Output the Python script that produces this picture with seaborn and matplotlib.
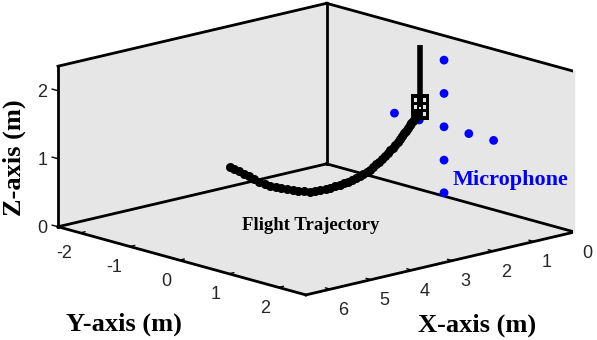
import matplotlib
matplotlib.use("Agg")
import matplotlib.pyplot as plt
import matplotlib.transforms as mtransforms
from matplotlib.path import Path
from mpl_toolkits.mplot3d import proj3d
import numpy as np
import seaborn as sns

sns.set_theme(style="white")

# axis limits and ticks (m)
x_lim = (0.0, 6.6)
y_lim = (-2.45, 2.55)
z_lim = (0.0, 2.36)
x_ticks = [0, 1, 2, 3, 4, 5, 6]
y_ticks = [-2, -1, 0, 1, 2]
z_ticks = [0, 1, 2]

# flight trajectory (lies in the y = 0 plane)
traj_plane_y = 0.0
traj_x = [5.37, 5.26, 5.14, 5.02, 4.90, 4.77, 4.64, 4.51, 4.38, 4.24,
          4.10, 3.96, 3.82, 3.68, 3.54, 3.40, 3.27, 3.14, 3.01, 2.89,
          2.77, 2.66, 2.55, 2.45, 2.35, 2.26, 2.17, 2.08, 2.00, 1.92,
          1.84, 1.76, 1.69, 1.62, 1.55, 1.48, 1.42, 1.36, 1.30, 1.24,
          1.18, 1.13, 1.08, 1.03, 0.98, 0.94, 0.90, 0.86, 0.82, 0.79, 0.76]
traj_z = [1.19, 1.15, 1.10, 1.05, 1.00, 0.94, 0.88, 0.83, 0.78, 0.74,
          0.71, 0.67, 0.64, 0.61, 0.59, 0.56, 0.55, 0.55, 0.54, 0.54,
          0.55, 0.55, 0.56, 0.57, 0.58, 0.60, 0.62, 0.64, 0.65, 0.67,
          0.70, 0.74, 0.76, 0.79, 0.83, 0.86, 0.89, 0.92, 0.95, 0.98,
          1.02, 1.06, 1.09, 1.12, 1.16, 1.19, 1.22, 1.24, 1.27, 1.31, 1.34]

# drone position and its vertical mast
drone_x = 0.69
drone_y = 0.0
drone_z = 1.43
mast_top_z = 2.33

# microphone array (cross in a plane close to x = 0)
mic_plane_x = 0.1
mic_y = [0.0, 0.0, 0.0, 0.0, 0.0, -1.0, -0.5, 0.5, 1.0]
mic_z = [0.08, 0.56, 1.05, 1.54, 2.03, 1.05, 1.05, 1.05, 1.05]

W, H = 597, 340
fig = plt.figure(figsize=(W / 100, H / 100), dpi=100)
ax = fig.add_axes([(298 - 150) / W, (170 - 150) / H, 300 / W, 300 / H],
                  projection="3d", proj_type="ortho", computed_zorder=False)
ax.view_init(elev=14.7, azim=47.3)
ax.set_box_aspect((1, 1, 0.454))
ax.set_xlim(*x_lim)
ax.set_ylim(*y_lim)
ax.set_zlim(*z_lim)
ax.set_xticks([])
ax.set_yticks([])
ax.set_zticks([])
ax.grid(False)
pane_grey = (0.9, 0.9, 0.9, 1.0)
for axis in (ax.xaxis, ax.yaxis, ax.zaxis):
    axis.set_pane_color(pane_grey)
    axis.line.set_visible(False)

# box outline (back walls + floor), thick like the original
x0, x1 = x_lim
y0, y1 = y_lim
z0, z1 = z_lim
frame_edges = [
    ((x1, y0, z0), (x0, y0, z0)), ((x0, y0, z0), (x0, y1, z0)),
    ((x1, y0, z0), (x1, y1, z0)), ((x1, y1, z0), (x0, y1, z0)),
    ((x1, y0, z0), (x1, y0, z1)), ((x0, y0, z0), (x0, y0, z1)),
    ((x0, y1, z0), (x0, y1, z1)), ((x1, y0, z1), (x0, y0, z1)),
    ((x0, y0, z1), (x0, y1, z1)),
]
for a, b in frame_edges:
    ax.plot([a[0], b[0]], [a[1], b[1]], [a[2], b[2]], color="black",
            linewidth=2.0, solid_capstyle="projecting", zorder=1)

# tick marks (short, inward)
for xt in x_ticks:
    ax.plot([xt, xt], [y1, y1 - 0.1], [0, 0], color="black", lw=1, zorder=2)
for yt in y_ticks:
    ax.plot([x1, x1 - 0.12], [yt, yt], [0, 0], color="black", lw=1, zorder=2)
for zt in z_ticks:
    ax.plot([x1, x1], [y0, y0 - 0.12], [zt, zt], color="black", lw=1, zorder=2)

# microphones
ax.scatter(np.full(len(mic_y), mic_plane_x), mic_y, mic_z, s=40, c="blue",
           edgecolors="none", depthshade=False, zorder=3)

# trajectory
ax.plot(traj_x, np.full(len(traj_x), traj_plane_y), traj_z, linestyle="none",
        marker="o", markersize=5.5, color="black", zorder=4)

# mast and drone icon
ax.plot([drone_x, drone_x], [drone_y, drone_y], [drone_z, mast_top_z],
        color="black", linewidth=4, solid_capstyle="butt", zorder=5)

verts, codes = [], []
def add_rect(xa, ya, xb, yb, reverse=False):
    pts = [(xa, ya), (xb, ya), (xb, yb), (xa, yb)]
    if reverse:
        pts = pts[::-1]
    verts.extend(pts + [pts[0]])
    codes.extend([Path.MOVETO, Path.LINETO, Path.LINETO, Path.LINETO, Path.CLOSEPOLY])
add_rect(-1.0, -1.5, 1.0, 1.5)
for cx in (-0.52, 0.0, 0.52):
    for cy in (-0.8, 0.0, 0.8):
        add_rect(cx - 0.14, cy - 0.24, cx + 0.14, cy + 0.24, reverse=True)
drone_marker = Path(verts, codes)
ax.plot([drone_x], [drone_y], [drone_z], linestyle="none", marker=drone_marker,
        markersize=19, color="black", markeredgewidth=0, zorder=6)


def to_display(xs, ys, zs):
    xs, ys, zs = np.broadcast_arrays(np.asarray(xs, float), np.asarray(ys, float),
                                     np.asarray(zs, float))
    x2, y2, _ = proj3d.proj_transform(xs.ravel(), ys.ravel(), zs.ravel(), ax.get_proj())
    return ax.transData.transform(np.column_stack([x2, y2]))


# fit the projected box onto the reference frame corners (pixel coords)
corners = [(x1, y0, z0), (x1, y1, z0), (x0, y1, z0), (x0, y0, z0),
           (x1, y0, z1), (x0, y0, z1), (x0, y1, z1)]
corner_px = np.array([(58, 228), (305, 296), (573, 233), (327.5, 164.5),
                      (59, 64.3), (327.7, 1.7), (574, 71)])
target = np.column_stack([corner_px[:, 0], H - corner_px[:, 1]])

fig.canvas.draw()
cx_, cy_, cz_ = zip(*corners)
cur = to_display(cx_, cy_, cz_)
bb = ax.get_position().transformed(fig.transFigure)
c0 = np.array([(bb.x0 + bb.x1) / 2, (bb.y0 + bb.y1) / 2])
pm, tm = cur.mean(axis=0), target.mean(axis=0)
k = np.sum((cur - pm) * (target - tm)) / np.sum((cur - pm) ** 2)
center = tm - k * (pm - c0)
side = bb.width * k
ax.set_position([(center[0] - side / 2) / W, (center[1] - side / 2) / H, side / W, side / H])
fig.canvas.draw()

ident = mtransforms.IdentityTransform()
tick_font = dict(family="Liberation Sans", fontsize=13, color="#262626", transform=ident)
for zt, (px_, py_) in zip(z_ticks, to_display(x1, y0, z_ticks)):
    fig.text(px_ - 10.5, py_ - 2, str(zt), ha="right", va="center", **tick_font)
for yt, (px_, py_) in zip(y_ticks, to_display(x1, y_ticks, 0)):
    fig.text(px_ - 8, py_ - 21, str(yt), ha="right", va="center", **tick_font)
for xt, (px_, py_) in zip(x_ticks, to_display(x_ticks, y1, 0)):
    fig.text(px_ + 8, py_ - 21, str(xt), ha="left", va="center", **tick_font)

label_font = dict(family="Liberation Serif", fontweight="bold", fontsize=19, color="black")
fig.text(124 / W, 1 - 324 / H, "Y-axis (m)", ha="center", va="center", **label_font)
fig.text(477 / W, 1 - 325 / H, "X-axis (m)", ha="center", va="center", **label_font)
fig.text(14 / W, 1 - 158 / H, "Z-axis (m)", ha="center", va="center", rotation=90, **label_font)

fig.text(452.7 / W, 1 - 185 / H, "Microphone", ha="left", va="baseline", color="blue",
         family="Liberation Serif", fontweight="bold", fontsize=16)
fig.text(241.7 / W, 1 - 230 / H, "Flight Trajectory", ha="left", va="baseline", color="black",
         family="Liberation Serif", fontweight="bold", fontsize=13.5)

fig.savefig("out.png", dpi=100)
